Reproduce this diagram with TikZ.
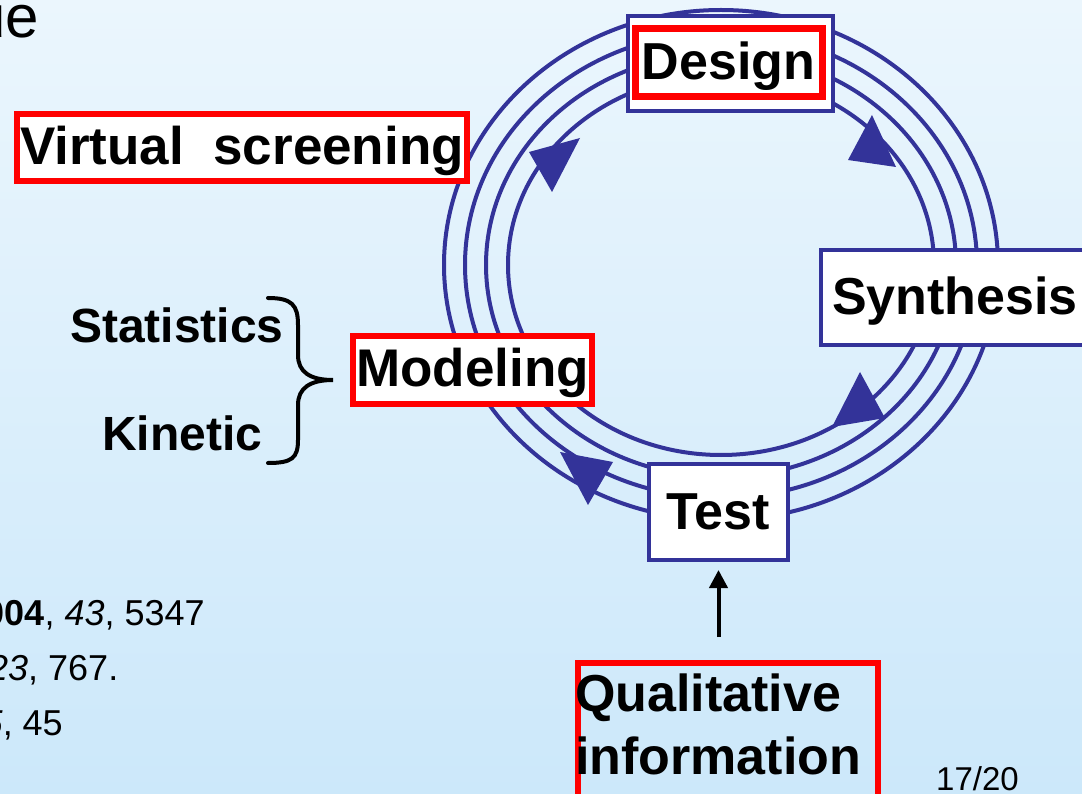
\documentclass[tikz,border=0pt]{standalone}
\usepackage{fontspec}
\setmainfont{Liberation Sans}
\usetikzlibrary{arrows.meta}
\definecolor{navy}{HTML}{333399}
\definecolor{bgtop}{HTML}{EBF6FD}
\definecolor{bgbot}{HTML}{CCE8FA}
\definecolor{pred}{HTML}{FF0000}
\begin{document}
\begin{tikzpicture}[x=1pt,y=-1pt,
  ring/.style={draw=navy, line width=4pt},
  bluebox/.style={draw=navy, line width=4pt, fill=white, inner sep=0pt},
  redbox/.style={draw=pred, line width=6pt, inner sep=0pt},
  lbl/.style={font=\bfseries\fontsize{52}{60}\selectfont, text height=36pt, text depth=2pt},
  biglbl/.style={font=\bfseries\fontsize{53}{60}\selectfont},
  sidelbl/.style={font=\bfseries\fontsize{48}{56}\selectfont, inner sep=0pt, anchor=base west},
  reftxt/.style={font=\fontsize{36}{44}\selectfont, inner sep=0pt, anchor=base east},
  tri/.style={fill=navy}
]
\useasboundingbox (0,0) rectangle (1082,794);
\clip (0,0) rectangle (1082,794);
\shade[top color=bgtop, bottom color=bgbot] (0,0) rectangle (1082,794);

% rings
\foreach \a/\b in {277/255, 256/233, 235/212, 213/190}
  \draw[ring] (721,265) ellipse [x radius=\a pt, y radius=\b pt];

% ring arrowheads
\fill[tri] (872,115) -- (848,160) -- (896,167) -- cycle;
\fill[tri] (860,372) -- (885,418) -- (832,427) -- cycle;
\fill[tri] (613,462) -- (588,505) -- (560,452) -- cycle;
\fill[tri] (529,152) -- (552,192) -- (580,138) -- cycle;

% boxes on the cycle
\node[bluebox, minimum width=205pt, minimum height=95pt] (designframe) at (730.5,63.5) {};
\node[redbox, line width=7pt, fill=white, minimum width=187pt, minimum height=68pt, lbl] (design) at (728.5,63) {Design};
\node[bluebox, minimum width=268pt, minimum height=95pt, lbl] (synth) at (955,297.5) {Synthesis};
\node[bluebox, minimum width=139pt, minimum height=96pt, lbl] (test) at (718.5,512) {Test};
\node[redbox, fill=white, minimum width=239pt, minimum height=68pt, lbl, biglbl] (model) at (472.5,370) {Modeling};

% virtual screening
\node[redbox, fill=white, minimum width=450pt, minimum height=67pt, lbl, biglbl] (virtual) at (242,147.5) {Virtual\ \ screening};

% statistics / kinetic with brace
\node[sidelbl] (stat) at (70,343) {Statistics};
\node[sidelbl] (kin) at (102,450) {Kinetic};
\draw[line width=4pt, line cap=round] (268,298) .. controls (292,298) and (298,305) .. (298,325) -- (298,355)
  .. controls (298,372) and (310,380) .. (333,380)
  .. controls (310,380) and (298,388) .. (298,405) -- (298,440)
  .. controls (298,458) and (292,463) .. (268,463);

% qualitative information
\node[redbox, minimum width=300pt, minimum height=150pt, anchor=north west] (qualbox) at (575,660) {};
\node[font=\bfseries\fontsize{52}{63}\selectfont, align=left, inner sep=0pt, anchor=north west] (qual) at (575,674) {Qualitative\\information};
\path (test.south) ++(0,75) coordinate (qtail);
\draw[line width=4pt, -{Triangle[length=18pt,width=18pt]}, shorten >=8pt] (qtail) -- (test.south);

% cut-off text fragments
\node[font=\fontsize{60}{70}\selectfont, inner sep=0pt, anchor=base east] (title) at (39,38) {ue};
\node[reftxt] (ref1) at (205,625) {\textbf{2004}, \textit{43}, 5347};
\node[reftxt] (ref2) at (118.5,680) {\textit{23}, 767.};
\node[reftxt] (ref3) at (63,735) {\textit{5}, 45};
\node[font=\fontsize{33}{40}\selectfont, inner sep=0pt, anchor=base west] (page) at (936,790) {17/20};
\end{tikzpicture}
\end{document}
